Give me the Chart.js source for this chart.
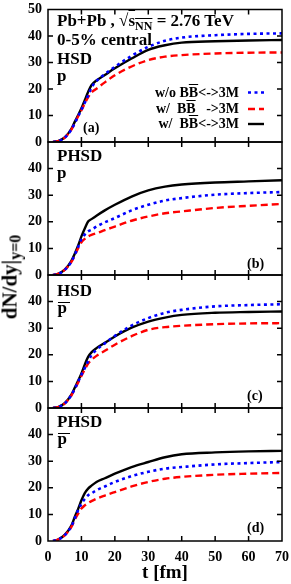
<!DOCTYPE html>
<html>
<head>
<meta charset="utf-8">
<script src="https://cdn.jsdelivr.net/npm/chart.js@4.4.0/dist/chart.umd.min.js"></script>
<style>
body { margin: 0; width: 291px; height: 584px; position: relative; background: #fff; overflow: hidden;
       font-family: "Liberation Serif", "DejaVu Serif", serif; font-weight: bold; color: #000; }
canvas { position: absolute; left: 0; }
.lbl { position: absolute; font-size: 17px; line-height: 19px; white-space: pre; }
.bar { position: absolute; width: 12px; border-top: 1.5px solid #000; font-size: 17px; line-height: 10.6px; }
.leg { position: absolute; font-size: 14px; line-height: 16px; white-space: pre; text-align: right; right: 52px; }
.tag { position: absolute; font-size: 14px; line-height: 16px; }
.ob { text-decoration: overline; }
.lbl sub { font-size: 12px; vertical-align: -4px; line-height: 0; }
#ytitle { position: absolute; left: 9.6px; top: 277px; font-size: 21px; line-height: 21px; white-space: nowrap;
          transform: translate(-50%, -50%) rotate(-90deg); }
#ytitle sub { font-size: 16px; vertical-align: -4px; line-height: 0; }
</style>
</head>
<body>
<canvas id="chartA" width="291" height="152" style="top:0px"></canvas>
<canvas id="chartB" width="291" height="153" style="top:132px"></canvas>
<canvas id="chartC" width="291" height="153" style="top:265px"></canvas>
<canvas id="chartD" width="291" height="186" style="top:398px"></canvas>

<div class="lbl" style="left:57px; top:10.8px">Pb+Pb , √<span class="ob">s<sub>NN</sub></span> = 2.76 TeV</div>
<div class="lbl" style="left:57px; top:29.8px">0-5% central</div>
<div class="lbl" style="left:57px; top:49px">HSD</div>
<div class="lbl" style="left:57px; top:65.8px">p</div>

<div class="leg" style="top:84.5px">w/o B<span class="ob">B</span>&lt;-&gt;3M</div>
<div class="leg" style="top:101px">w/  B<span class="ob">B</span>   -&gt;3M</div>
<div class="leg" style="top:116px">w/  B<span class="ob">B</span>&lt;-&gt;3M</div>

<div class="lbl" style="left:57px; top:146.3px">PHSD</div>
<div class="lbl" style="left:57px; top:163.3px">p</div>
<div class="lbl" style="left:57px; top:280.5px">HSD</div>
<div class="bar" style="left:57.5px; top:301.5px">p</div>
<div class="lbl" style="left:57px; top:411.5px">PHSD</div>
<div class="bar" style="left:57.5px; top:432.5px">p</div>

<div class="tag" style="left:83px; top:120px">(a)</div>
<div class="tag" style="left:247px; top:256px">(b)</div>
<div class="tag" style="left:247px; top:388px">(c)</div>
<div class="tag" style="left:247px; top:520px">(d)</div>

<div id="ytitle">dN/dy|<sub>y=0</sub></div>

<script>
// time axis [fm]
const tVals = [1.5, 3, 5, 7, 8, 9, 10, 11, 12, 13, 14.5, 17, 20, 25, 30, 35, 40, 50, 60, 70];
const xTicks = [0, 10, 20, 30, 40, 50, 60, 70];
const yTicks = [0, 10, 20, 30, 40, 50];

// (a) HSD, protons
const hsdP_noBB   = [0, 0.3, 1.6, 4.7, 7.1, 9.6, 12.2, 14.8, 17.5, 20.5, 23, 25.6, 28.4, 32.5, 35.9, 38.2, 39.4, 40.3, 40.8, 41];
const hsdP_fwdBB  = [0, 0.3, 1.6, 4.7, 7.1, 9.6, 12, 14.5, 16.9, 18.7, 20.1, 22.5, 25.2, 28.5, 30.9, 32.2, 32.8, 33.4, 33.7, 33.8];
const hsdP_fullBB = [0, 0.3, 1.7, 5, 7.6, 10.1, 12.7, 15.8, 18.9, 21.4, 23.2, 25.3, 27.8, 31.5, 34.8, 36.5, 37.5, 38, 38.3, 38.5];

// (b) PHSD, protons
const phsdP_noBB   = [0, 0.4, 1.9, 5, 7.6, 10.5, 13.5, 15.2, 16.4, 17, 18.2, 19.8, 21.4, 24.3, 26.4, 28, 28.9, 30.2, 30.8, 31.2];
const phsdP_fwdBB  = [0, 0.4, 1.9, 4.9, 7.4, 10, 12.3, 13.6, 14.5, 15.1, 15.7, 16.9, 18.2, 20.4, 22, 23.2, 23.9, 25.2, 26, 26.7];
const phsdP_fullBB = [0, 0.4, 2, 5.3, 8, 11, 14.5, 17.5, 20.1, 21, 22.3, 24.3, 26.4, 29.5, 31.8, 33.2, 34, 34.8, 35.2, 35.6];

// (c) HSD, antiprotons
const hsdPbar_noBB   = [0, 0.3, 1.7, 4.8, 7.2, 9.8, 12.5, 15, 17.5, 19.8, 21.9, 24.3, 27.1, 31, 33.8, 35.8, 36.9, 38.2, 38.7, 39];
const hsdPbar_fwdBB  = [0, 0.3, 1.7, 4.7, 7.1, 9.5, 12, 14.5, 16.7, 18.1, 19.6, 21.5, 23.8, 27, 29.4, 30.4, 30.9, 31.5, 31.8, 31.9];
const hsdPbar_fullBB = [0, 0.3, 1.8, 5, 7.6, 10.2, 13, 16.3, 19.2, 20.9, 22.5, 24.5, 26.9, 30.2, 32.5, 34, 35, 35.8, 36.1, 36.3];

// (d) PHSD, antiprotons
const phsdPbar_noBB   = [0, 0.5, 2.2, 5.5, 8.5, 11.5, 14, 15.8, 17.2, 17.9, 19.1, 20.5, 22.2, 24.4, 26, 27.2, 27.8, 28.8, 29.3, 29.7];
const phsdPbar_fwdBB  = [0, 0.5, 2.1, 5.3, 8, 10.2, 12.2, 13.4, 14.3, 15, 15.9, 17.1, 18.4, 20.5, 22.2, 23.4, 24.1, 24.9, 25.3, 25.6];
const phsdPbar_fullBB = [0, 0.5, 2.3, 5.8, 9, 12, 15.3, 18, 19.7, 20.8, 22.2, 23.6, 25.3, 27.8, 29.7, 31.5, 32.6, 33.3, 33.7, 33.9];

const tickFont = { family: 'Liberation Serif', weight: 'bold', size: 14 };

function makeSets(noBB, fwdBB, fullBB) {
    const pts = arr => arr.map((v, i) => ({ x: tVals[i], y: v }));
    return [{
        label: 'w/o BB<->3M',
        data: pts(noBB),
        borderColor: 'rgb(0, 0, 255)',
        borderWidth: 2.6,
        borderDash: [3, 3.5],
        borderCapStyle: 'butt'
    }, {
        label: 'w/ BB ->3M',
        data: pts(fwdBB),
        borderColor: 'rgb(255, 0, 0)',
        borderWidth: 2.4,
        borderDash: [7, 4],
        borderCapStyle: 'butt'
    }, {
        label: 'w/ BB<->3M',
        data: pts(fullBB),
        borderColor: '#000',
        borderWidth: 2.4
    }];
}

// frame with inward ticks on all four sides (gnuplot look)
const framePlugin = {
    id: 'frame',
    afterDraw(chart) {
        const { ctx, chartArea: a, scales } = chart;
        ctx.save();
        ctx.strokeStyle = '#000';
        ctx.lineWidth = 1.5;
        ctx.strokeRect(a.left, a.top, a.right - a.left, a.bottom - a.top);
        ctx.beginPath();
        xTicks.slice(1, -1).forEach(v => {
            const x = scales.x.getPixelForValue(v);
            ctx.moveTo(x, a.bottom); ctx.lineTo(x, a.bottom - 5);
            ctx.moveTo(x, a.top); ctx.lineTo(x, a.top + 5);
        });
        yTicks.slice(1, -1).forEach(v => {
            const y = scales.y.getPixelForValue(v);
            ctx.moveTo(a.left, y); ctx.lineTo(a.left + 5, y);
            ctx.moveTo(a.right, y); ctx.lineTo(a.right - 5, y);
        });
        ctx.stroke();
        ctx.restore();
    }
};

// line samples for the legend in panel (a)
const legendRows = [92.5, 109, 124];
const legendPlugin = {
    id: 'legendSamples',
    afterDatasetsDraw(chart) {
        const ctx = chart.ctx;
        chart.data.datasets.forEach((ds, i) => {
            ctx.save();
            ctx.strokeStyle = ds.borderColor;
            ctx.lineWidth = ds.borderWidth;
            ctx.setLineDash(ds.borderDash || []);
            ctx.beginPath();
            ctx.moveTo(248, legendRows[i]);
            ctx.lineTo(264, legendRows[i]);
            ctx.stroke();
            ctx.restore();
        });
    }
};

function makeChart(id, sets, opts) {
    const showX = !!opts.showX;
    return new Chart(document.getElementById(id), {
        type: 'line',
        data: { datasets: sets },
        options: {
            responsive: false,
            animation: false,
            events: [],
            layout: { padding: { top: opts.top, bottom: showX ? 0 : 10, right: 9, left: 0 } },
            elements: { point: { radius: 0 }, line: { cubicInterpolationMode: 'monotone', fill: false } },
            plugins: { legend: { display: false }, tooltip: { enabled: false } },
            scales: {
                x: {
                    type: 'linear', min: 0, max: 70,
                    display: showX,
                    afterBuildTicks: s => { s.ticks = xTicks.map(v => ({ value: v })); },
                    afterFit: s => { if (showX) s.height = 43; s.paddingLeft = 0; s.paddingRight = 0; },
                    grid: { display: false, drawTicks: false },
                    border: { display: false },
                    ticks: { font: tickFont, color: '#000', padding: 8, maxRotation: 0, autoSkip: false },
                    title: {
                        display: showX, text: 't [fm]', color: '#000', padding: 0,
                        font: { family: 'Liberation Serif', weight: 'bold', size: 19 }
                    }
                },
                y: {
                    type: 'linear', min: 0, max: 50,
                    afterBuildTicks: s => { s.ticks = yTicks.map(v => ({ value: v })); },
                    afterFit: s => { s.width = 48; s.paddingTop = 0; s.paddingBottom = 0; },
                    grid: { display: false, drawTicks: false },
                    border: { display: false },
                    ticks: {
                        font: tickFont, color: '#000', padding: 6, autoSkip: false,
                        callback: v => (v === 50 && !opts.show50) ? '' : v
                    }
                }
            }
        },
        plugins: opts.legend ? [framePlugin, legendPlugin] : [framePlugin]
    });
}

makeChart('chartA', makeSets(hsdP_noBB, hsdP_fwdBB, hsdP_fullBB), { top: 9.5, show50: true, legend: true });
makeChart('chartB', makeSets(phsdP_noBB, phsdP_fwdBB, phsdP_fullBB), { top: 10 });
makeChart('chartC', makeSets(hsdPbar_noBB, hsdPbar_fwdBB, hsdPbar_fullBB), { top: 10 });
makeChart('chartD', makeSets(phsdPbar_noBB, phsdPbar_fwdBB, phsdPbar_fullBB), { top: 10, showX: true });
</script>
</body>
</html>
